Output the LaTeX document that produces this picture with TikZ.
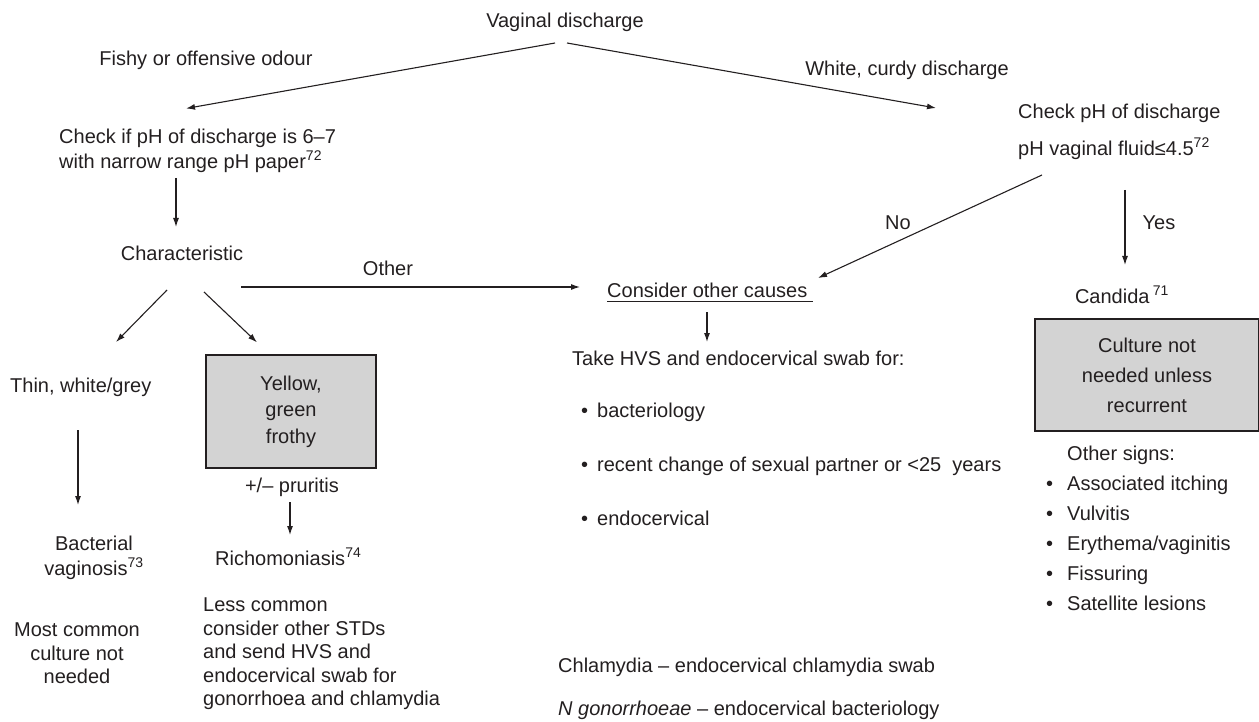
\documentclass[tikz,border=0pt]{standalone}
\usepackage{fontspec}
\setmainfont{Liberation Sans}
\usepackage{tikz}
\usetikzlibrary{arrows.meta,calc,positioning}
\definecolor{FlowInk}{HTML}{231F20}
\definecolor{FlowGrey}{HTML}{D3D3D3}
\newcommand{\bulletgap}[1]{\llap{\textbullet\hspace{#1}}}

\begin{document}
\begin{tikzpicture}[x=1pt,y=-1pt,
  every node/.style={font=\fontsize{20}{25}\selectfont,text=FlowInk,inner sep=0pt},
  arr/.style={-{Latex[length=9pt,width=6pt]},line width=1.1pt,FlowInk},
  greybox/.style={draw=FlowInk,fill=FlowGrey,line width=1.2pt,align=center}]
  \useasboundingbox (0,0) rectangle (1259,722);

  % top of the chart
  \node (vd) at (565,22) {Vaginal discharge};
  \node (fishy) at (206,60) {Fishy or offensive odour};
  \node (curdy) at (907,70) {White, curdy discharge};
  \node[anchor=west,align=left] (chkL) at (59,150.5) {Check if pH of discharge is 6–7\\with narrow range pH paper\textsuperscript{72}};
  \node[anchor=west,align=left,font=\fontsize{20}{37}\selectfont] (chkR) at (1018,131.5) {Check pH of discharge\\pH vaginal fluid≤4.5\textsuperscript{72}};

  % middle row
  \node (char) at (182,253) {Characteristic};
  \node (other) at (388,268) {Other};
  \node[anchor=west] (cons) at (607,290) {Consider other causes};
  \node (no) at (898,223) {No};
  \node (yes) at (1159,223) {Yes};
  \node (cand) at (1122,295) {Candida\,\textsuperscript{71}};
  \node[greybox,minimum width=224pt,minimum height=112pt,font=\fontsize{20}{30}\selectfont] (cbox) at (1147,375) {Culture not\\needed unless\\recurrent};
  \node[anchor=west,align=left,font=\fontsize{20}{30}\selectfont] (signs) at (1067,528) {Other signs:\\\bulletgap{14pt}Associated itching\\\bulletgap{14pt}Vulvitis\\\bulletgap{14pt}Erythema/vaginitis\\\bulletgap{14pt}Fissuring\\\bulletgap{14pt}Satellite lesions};

  % left branch
  \node[anchor=west] (thin) at (10,387) {Thin, white/grey};
  \node[greybox,minimum width=170pt,minimum height=113pt,font=\fontsize{20}{26.5}\selectfont] (ybox) at (291,411.5) {Yellow,\\green\\frothy};
  \node (prur) at (292,487) {+/– pruritis};
  \node[align=center] (bv) at (94,557.5) {Bacterial\\vaginosis\textsuperscript{73}};
  \node[anchor=west] (rich) at (215,557) {Richomoniasis\textsuperscript{74}};
  \node[align=center,font=\fontsize{20}{23.5}\selectfont] (most) at (77,653.5) {Most common\\culture not\\needed};
  \node[anchor=west,align=left,font=\fontsize{20}{23.5}\selectfont] (less) at (203,654) {Less common\\consider other STDs\\and send HVS and\\endocervical swab for\\gonorrhoea and chlamydia};

  % other causes
  \node[anchor=west] (take) at (572,358) {Take HVS and endocervical swab for:};
  \node[anchor=west] (bact) at (597,412) {\bulletgap{9pt}bacteriology};
  \node[anchor=west] (recent) at (597,466) {\bulletgap{9pt}recent change of sexual partner or <25~~years};
  \node[anchor=west] (endo) at (597,518) {\bulletgap{9pt}endocervical};
  \node[anchor=west] (chl) at (558,667) {Chlamydia – endocervical chlamydia swab};
  \node[anchor=west] (ngon) at (558,710) {\textit{N gonorrhoeae} – endocervical bacteriology};

  \draw[line width=1pt,FlowInk] ($(cons.south west)+(0,4)$) -- ($(cons.south east)+(5,4)$);

  % arrows
  \draw[arr] ($(vd)+(-10,21)$) -- ($(chkL.west)+(127,-42)$);
  \draw[arr] ($(vd)+(2,21)$) -- ($(chkR.west)+(-82,-23.5)$);
  \draw[arr] ($(chkL.west)+(117,27.5)$) -- ($(char)+(-6,-26)$);
  \draw[arr] ($(chkR.west)+(24,43.5)$) -- ($(cons.west)+(211,-12)$);
  \draw[arr] ($(chkR.west)+(107,58.5)$) -- ($(cand)+(3,-30)$);
  \draw[arr] ($(char)+(59,34)$) -- ($(cons.west)+(-27,-3)$);
  \draw[arr] ($(char)+(-15,37)$) -- ($(thin.west)+(106,-45)$);
  \draw[arr] ($(char)+(22,39)$) -- ($(ybox.north)+(-34,-12)$);
  \draw[arr] ($(thin.west)+(68,43)$) -- ($(bv)+(-16,-52.5)$);
  \draw[arr] ($(prur)+(-2,15)$) -- ($(rich.west)+(75,-22)$);
  \draw[arr] ($(cons.west)+(100,22)$) -- ($(take.west)+(135,-16)$);
\end{tikzpicture}
\end{document}
